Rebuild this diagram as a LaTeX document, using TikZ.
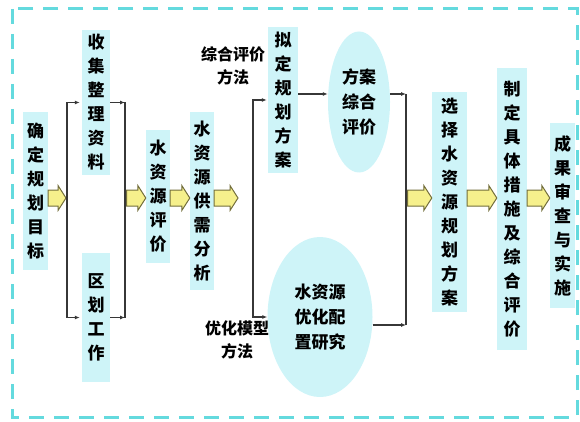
\documentclass[tikz,border=0pt]{standalone}
\usepackage{fontspec}
\setmainfont{Noto Sans CJK SC}
\usetikzlibrary{shapes.geometric,arrows.meta}
\definecolor{bord}{RGB}{100,218,222}
\definecolor{boxf}{RGB}{206,244,248}
\definecolor{yel}{RGB}{246,240,140}
\definecolor{yelb}{RGB}{115,110,60}
\definecolor{ln}{RGB}{55,55,55}
\tikzset{
  vbox/.style={fill=boxf, inner sep=0pt, align=center, font=\bfseries\fontsize{17}{24}\selectfont},
  ellbox/.style={ellipse, fill=boxf, inner sep=0pt, align=center, font=\bfseries\fontsize{17}{25}\selectfont},
  yarr/.style={draw=yelb, fill=yel, line width=1pt, line join=miter},
  conn/.style={draw=ln, line width=1.2pt, -{Latex[length=5pt,width=4pt]}},
  plain/.style={draw=ln, line width=1.2pt},
  lbl/.style={align=center, inner sep=0pt, font=\bfseries\fontsize{16}{23}\selectfont},
}
% yellow block arrow from coordinate #1 to coordinate #2 (same height)
\newcommand\yarrowdraw[2]{%
  \draw[yarr] ([yshift=8pt]#1) -- ([xshift=-8pt,yshift=8pt]#2) -- ([xshift=-8pt,yshift=12.5pt]#2)
    -- (#2) -- ([xshift=-8pt,yshift=-12.5pt]#2) -- ([xshift=-8pt,yshift=-8pt]#2)
    -- ([yshift=-8pt]#1) -- cycle;}
\begin{document}
\begin{tikzpicture}[x=1pt,y=-1pt]
\useasboundingbox (0,0) rectangle (580,422);
\draw[bord, line width=3pt, dash pattern=on 15pt off 10pt] (12,9) rectangle (577,417);

% boxes
\node[vbox, minimum width=25pt, minimum height=158pt] (goal) at (35.5,191) {确\\定\\规\\划\\目\\标};
\node[vbox, minimum width=28pt, minimum height=145pt] (coll) at (96,102.5) {收\\集\\整\\理\\资\\料};
\node[vbox, minimum width=28pt, minimum height=129pt] (zone) at (96,317.5) {区\\划\\工\\作};
\node[vbox, minimum width=24pt, minimum height=133pt] (eval) at (158,196.5) {水\\资\\源\\评\\价};
\node[vbox, minimum width=24pt, minimum height=178pt] (supp) at (202,201) {水\\资\\源\\供\\需\\分\\析};
\node[vbox, minimum width=30pt, minimum height=146pt] (draft) at (283,100) {拟\\定\\规\\划\\方\\案};
\node[ellbox, minimum width=62pt, minimum height=141pt] (ell1) at (359,102) {方案\\综合\\评价};
\node[ellbox, minimum width=105pt, minimum height=160pt] (ell2) at (320,317) {水资源\\优化配\\置研究};
\node[vbox, minimum width=35pt, minimum height=220pt] (sel) at (449.5,202) {选\\择\\水\\资\\源\\规\\划\\方\\案};
\node[vbox, minimum width=30pt, minimum height=282pt] (meas) at (512,209) {制\\定\\具\\体\\措\\施\\及\\综\\合\\评\\价};
\node[vbox, minimum width=25pt, minimum height=185pt] (res) at (562.5,215.5) {成\\果\\审\\查\\与\\实\\施};

% labels
\node[lbl] (m1) at (233,66) {综合评价\\方法};
\node[lbl] (m2) at (237,340) {优化模型\\方法};

% junction coordinates
\coordinate (j1) at (67,198);
\coordinate (j2) at (125,198);
\coordinate (j3) at (253,198);
\coordinate (j4) at (406,198);

% yellow block arrows
\coordinate (y1s) at (goal.east |- j1);  \coordinate (y1e) at (66,198);
\coordinate (y2s) at (126.5,198);         \coordinate (y2e) at (eval.west |- j1);
\coordinate (y3s) at (eval.east |- j1);  \coordinate (y3e) at (supp.west |- j1);
\coordinate (y4s) at (supp.east |- j1);  \coordinate (y4e) at (238,198);
\coordinate (y5s) at (407.5,198);         \coordinate (y5e) at (sel.west |- j1);
\coordinate (y6s) at (sel.east |- j1);   \coordinate (y6e) at (meas.west |- j1);
\coordinate (y7s) at (meas.east |- j1);  \coordinate (y7e) at (res.west |- j1);
\yarrowdraw{y1s}{y1e}
\yarrowdraw{y2s}{y2e}
\yarrowdraw{y3s}{y3e}
\yarrowdraw{y4s}{y4e}
\yarrowdraw{y5s}{y5e}
\yarrowdraw{y6s}{y6e}
\yarrowdraw{y7s}{y7e}

% split 1
\draw[conn, shorten >=2pt] (j1) |- (coll.west);
\draw[conn, shorten >=2pt] (j1) |- (zone.west);
% merge 1
\draw[plain] (coll.east -| j2) -- (zone.east -| j2);
\draw[conn] (coll.east) -- (coll.east -| j2);
\draw[conn] (zone.east) -- (zone.east -| j2);
% split 2
\draw[conn, shorten >=1pt] (j3) |- (draft.west);
\draw[conn] (j3) |- (ell2.west);
% draft to evaluation
\draw[conn] (draft.east |- 0,94) -- (ell1.west |- 0,94);
% merge 2
\draw[plain] (j4 |- 0,94) -- (j4 |- 0,325);
\draw[conn] (ell1.east |- 0,94) -- (j4 |- 0,94);
\draw[conn] (ell2.east |- 0,325) -- (j4 |- 0,325);
\end{tikzpicture}
\end{document}
